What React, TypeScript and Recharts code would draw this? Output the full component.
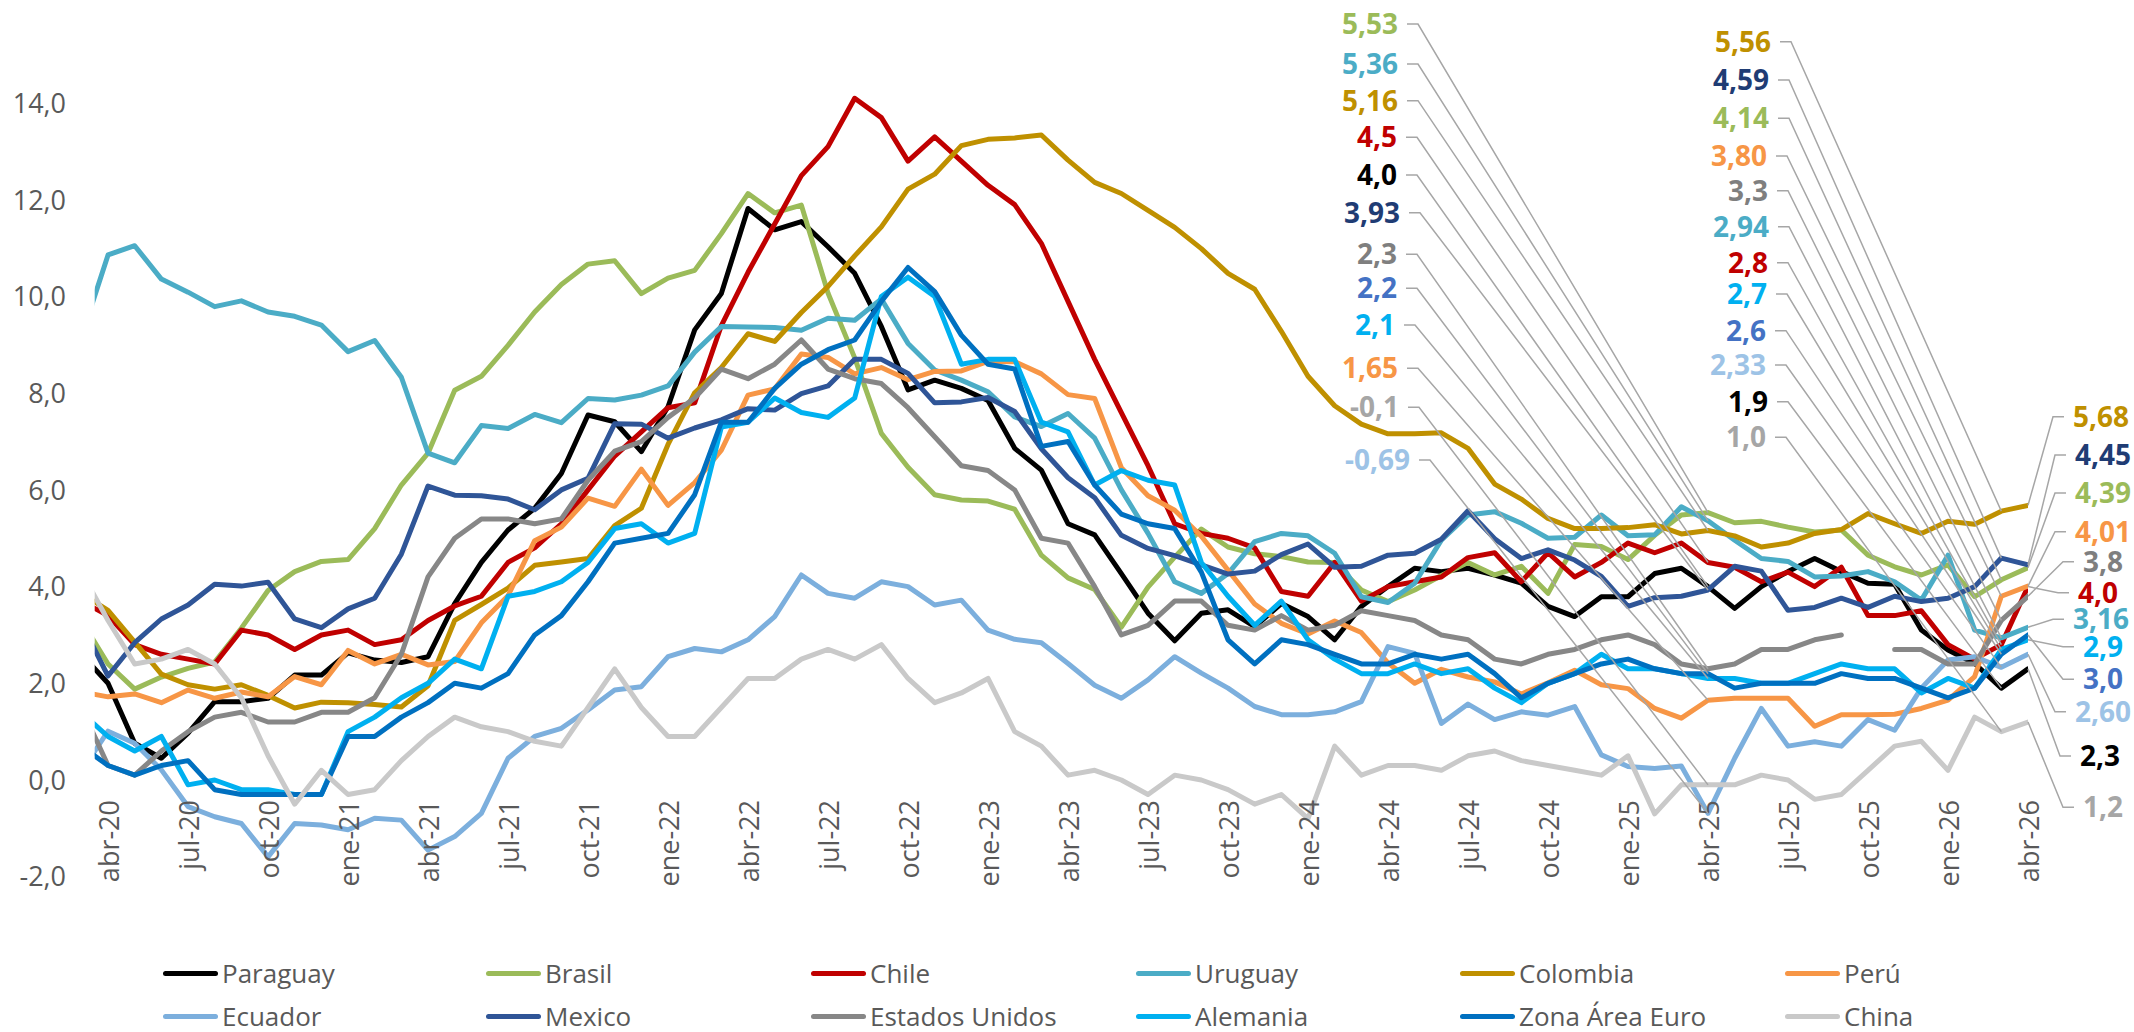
import React from 'react';
import { LineChart, Line, XAxis, YAxis, LabelList } from 'recharts';

// ---------------- DATA ----------------
const CATEGORIES = [
  'mar-20', 'abr-20', 'may-20', 'jun-20', 'jul-20', 'ago-20', 'sep-20', 'oct-20', 'nov-20', 'dic-20',
  'ene-21', 'feb-21', 'mar-21', 'abr-21', 'may-21', 'jun-21', 'jul-21', 'ago-21', 'sep-21', 'oct-21', 'nov-21', 'dic-21',
  'ene-22', 'feb-22', 'mar-22', 'abr-22', 'may-22', 'jun-22', 'jul-22', 'ago-22', 'sep-22', 'oct-22', 'nov-22', 'dic-22',
  'ene-23', 'feb-23', 'mar-23', 'abr-23', 'may-23', 'jun-23', 'jul-23', 'ago-23', 'sep-23', 'oct-23', 'nov-23', 'dic-23',
  'ene-24', 'feb-24', 'mar-24', 'abr-24', 'may-24', 'jun-24', 'jul-24', 'ago-24', 'sep-24', 'oct-24', 'nov-24', 'dic-24',
  'ene-25', 'feb-25', 'mar-25', 'abr-25', 'may-25', 'jun-25', 'jul-25', 'ago-25', 'sep-25', 'oct-25', 'nov-25', 'dic-25',
  'ene-26', 'feb-26', 'mar-26', 'abr-26',
];

const PARAGUAY = [2.6,
  2.0, 0.76, 0.45, 0.97, 1.62, 1.62, 1.69, 2.17, 2.17,
  2.63, 2.48, 2.43, 2.55, 3.65, 4.5, 5.17, 5.62, 6.34, 7.55, 7.41, 6.79,
  7.72, 9.31, 10.06, 11.82, 11.38, 11.55, 11.03, 10.48, 9.38, 8.07, 8.27, 8.1,
  7.85, 6.86, 6.41, 5.3, 5.07, 4.27, 3.45, 2.88, 3.45, 3.52, 3.17, 3.65,
  3.38, 2.9, 3.59, 4.0, 4.38, 4.31, 4.38, 4.24, 4.07, 3.59, 3.38, 3.79,
  3.79, 4.27, 4.38, 4.0, 3.55, 4.0, 4.31, 4.58, 4.31, 4.07, 4.05, 3.1,
  2.69, 2.41, 1.9, 2.3];
const BRASIL = [3.3,
  2.40, 1.88, 2.13, 2.31, 2.44, 3.14, 3.92, 4.31, 4.52,
  4.56, 5.20, 6.10, 6.76, 8.06, 8.35, 8.99, 9.68, 10.25, 10.67, 10.74, 10.06,
  10.38, 10.54, 11.30, 12.13, 11.73, 11.89, 10.07, 8.73, 7.17, 6.47, 5.90, 5.79,
  5.77, 5.60, 4.65, 4.18, 3.94, 3.16, 3.99, 4.61, 5.19, 4.82, 4.68, 4.62,
  4.51, 4.50, 3.93, 3.69, 3.93, 4.23, 4.50, 4.24, 4.42, 3.86, 4.87, 4.83,
  4.56, 5.06, 5.48, 5.53, 5.32, 5.35, 5.23, 5.13, 5.17, 4.65, 4.41, 4.24,
  4.45, 3.79, 4.14, 4.39];
const CHILE = [3.7,
  3.4, 2.8, 2.6, 2.5, 2.4, 3.1, 3.0, 2.7, 3.0,
  3.1, 2.8, 2.9, 3.3, 3.6, 3.8, 4.5, 4.8, 5.3, 6.0, 6.7, 7.2,
  7.7, 7.8, 9.4, 10.5, 11.5, 12.5, 13.1, 14.1, 13.7, 12.8, 13.3, 12.8,
  12.3, 11.9, 11.1, 9.9, 8.7, 7.6, 6.5, 5.3, 5.1, 5.0, 4.8, 3.9,
  3.8, 4.5, 3.7, 4.0, 4.1, 4.2, 4.6, 4.7, 4.1, 4.7, 4.2, 4.5,
  4.9, 4.7, 4.9, 4.5, 4.4, 4.1, 4.3, 4.0, 4.4, 3.4, 3.4, 3.5,
  2.8, 2.5, 2.8, 4.0];
const URUGUAY = [9.16,
  10.86, 11.05, 10.36, 10.09, 9.79, 9.91, 9.68, 9.59, 9.41,
  8.86, 9.09, 8.33, 6.76, 6.56, 7.33, 7.27, 7.56, 7.39, 7.89, 7.86, 7.96,
  8.15, 8.85, 9.38, 9.37, 9.36, 9.30, 9.55, 9.51, 9.95, 9.03, 8.48, 8.27,
  8.03, 7.51, 7.31, 7.58, 7.07, 6.0, 5.1, 4.1, 3.86, 4.27, 4.93, 5.1,
  5.05, 4.69, 3.79, 3.67, 4.07, 4.96, 5.48, 5.55, 5.31, 5.0, 5.02, 5.48,
  5.05, 5.07, 5.65, 5.36, 4.96, 4.58, 4.52, 4.2, 4.22, 4.31, 4.1, 3.72,
  4.65, 3.1, 2.94, 3.16];
const COLOMBIA = [3.86,
  3.51, 2.85, 2.19, 1.97, 1.88, 1.97, 1.75, 1.49, 1.61,
  1.60, 1.56, 1.51, 1.95, 3.30, 3.63, 3.97, 4.44, 4.51, 4.58, 5.26, 5.62,
  6.94, 8.01, 8.53, 9.23, 9.07, 9.67, 10.21, 10.84, 11.44, 12.22, 12.53, 13.12,
  13.25, 13.28, 13.34, 12.82, 12.36, 12.13, 11.78, 11.43, 10.99, 10.48, 10.15, 9.28,
  8.35, 7.74, 7.36, 7.16, 7.16, 7.18, 6.86, 6.12, 5.81, 5.41, 5.20, 5.20,
  5.22, 5.28, 5.09, 5.16, 5.05, 4.82, 4.90, 5.10, 5.18, 5.51, 5.30, 5.10,
  5.35, 5.29, 5.56, 5.68];
const PERU = [1.82,
  1.72, 1.78, 1.60, 1.86, 1.69, 1.82, 1.72, 2.14, 1.97,
  2.68, 2.40, 2.60, 2.38, 2.45, 3.25, 3.81, 4.95, 5.23, 5.83, 5.66, 6.43,
  5.68, 6.15, 6.82, 7.96, 8.09, 8.81, 8.74, 8.40, 8.53, 8.28, 8.45, 8.46,
  8.66, 8.65, 8.40, 7.97, 7.89, 6.46, 5.88, 5.58, 5.04, 4.34, 3.64, 3.24,
  3.02, 3.29, 3.05, 2.42, 2.00, 2.29, 2.13, 2.03, 1.78, 2.01, 2.27, 1.97,
  1.89, 1.48, 1.28, 1.65, 1.69, 1.69, 1.69, 1.11, 1.35, 1.35, 1.36, 1.48,
  1.65, 2.14, 3.80, 4.01];
const ECUADOR = [0.18,
  1.01, 0.76, 0.21, -0.55, -0.76, -0.9, -1.59, -0.9, -0.93,
  -1.03, -0.79, -0.83, -1.45, -1.17, -0.69, 0.45, 0.9, 1.07, 1.45, 1.86, 1.93,
  2.55, 2.72, 2.65, 2.9, 3.38, 4.24, 3.86, 3.76, 4.1, 4.0, 3.62, 3.72,
  3.1, 2.91, 2.84, 2.41, 1.96, 1.69, 2.07, 2.55, 2.21, 1.9, 1.52, 1.35,
  1.35, 1.41, 1.62, 2.76, 2.62, 1.17, 1.57, 1.25, 1.41, 1.34, 1.52, 0.52,
  0.28, 0.24, 0.29, -0.69, 0.45, 1.48, 0.7, 0.79, 0.7, 1.25, 1.03, 1.9,
  2.48, 2.55, 2.33, 2.60];
const MEXICO = [3.25,
  2.15, 2.84, 3.33, 3.62, 4.05, 4.01, 4.09, 3.33, 3.15,
  3.54, 3.76, 4.67, 6.08, 5.89, 5.88, 5.81, 5.59, 6.00, 6.24, 7.37, 7.36,
  7.07, 7.28, 7.45, 7.68, 7.65, 7.99, 8.15, 8.70, 8.70, 8.41, 7.80, 7.82,
  7.91, 7.62, 6.85, 6.25, 5.84, 5.06, 4.79, 4.64, 4.45, 4.26, 4.32, 4.66,
  4.88, 4.40, 4.42, 4.65, 4.69, 4.98, 5.57, 4.99, 4.58, 4.76, 4.55, 4.21,
  3.59, 3.77, 3.80, 3.93, 4.42, 4.32, 3.51, 3.57, 3.76, 3.57, 3.80, 3.69,
  3.76, 4.0, 4.59, 4.45];
const EEUU = [1.5,
  0.3, 0.1, 0.6, 1.0, 1.3, 1.4, 1.2, 1.2, 1.4,
  1.4, 1.7, 2.6, 4.2, 5.0, 5.4, 5.4, 5.3, 5.4, 6.2, 6.8, 7.0,
  7.5, 7.9, 8.5, 8.3, 8.6, 9.1, 8.5, 8.3, 8.2, 7.7, 7.1, 6.5,
  6.4, 6.0, 5.0, 4.9, 4.0, 3.0, 3.2, 3.7, 3.7, 3.2, 3.1, 3.4,
  3.1, 3.2, 3.5, 3.4, 3.3, 3.0, 2.9, 2.5, 2.4, 2.6, 2.7, 2.9,
  3.0, 2.8, 2.4, 2.3, 2.4, 2.7, 2.7, 2.9, 3.0, null, 2.7, 2.7,
  2.4, 2.4, 3.3, 3.8];
const ALEMANIA = [1.4,
  0.9, 0.6, 0.9, -0.1, 0.0, -0.2, -0.2, -0.3, -0.3,
  1.0, 1.3, 1.7, 2.0, 2.5, 2.3, 3.8, 3.9, 4.1, 4.5, 5.2, 5.3,
  4.9, 5.1, 7.3, 7.4, 7.9, 7.6, 7.5, 7.9, 10.0, 10.4, 10.0, 8.6,
  8.7, 8.7, 7.4, 7.2, 6.1, 6.4, 6.2, 6.1, 4.5, 3.8, 3.2, 3.7,
  2.9, 2.5, 2.2, 2.2, 2.4, 2.2, 2.3, 1.9, 1.6, 2.0, 2.2, 2.6,
  2.3, 2.3, 2.2, 2.1, 2.1, 2.0, 2.0, 2.2, 2.4, 2.3, 2.3, 1.8,
  2.1, 1.9, 2.7, 2.9];
const ZONA_EURO = [0.7,
  0.3, 0.1, 0.3, 0.4, -0.2, -0.3, -0.3, -0.3, -0.3,
  0.9, 0.9, 1.3, 1.6, 2.0, 1.9, 2.2, 3.0, 3.4, 4.1, 4.9, 5.0,
  5.1, 5.9, 7.4, 7.4, 8.1, 8.6, 8.9, 9.1, 9.9, 10.6, 10.1, 9.2,
  8.6, 8.5, 6.9, 7.0, 6.1, 5.5, 5.3, 5.2, 4.3, 2.9, 2.4, 2.9,
  2.8, 2.6, 2.4, 2.4, 2.6, 2.5, 2.6, 2.2, 1.7, 2.0, 2.2, 2.4,
  2.5, 2.3, 2.2, 2.2, 1.9, 2.0, 2.0, 2.0, 2.2, 2.1, 2.1, 1.9,
  1.7, 1.9, 2.6, 3.0];
const CHINA = [4.3,
  3.3, 2.4, 2.5, 2.7, 2.4, 1.7, 0.5, -0.5, 0.2,
  -0.3, -0.2, 0.4, 0.9, 1.3, 1.1, 1.0, 0.8, 0.7, 1.5, 2.3, 1.5,
  0.9, 0.9, 1.5, 2.1, 2.1, 2.5, 2.7, 2.5, 2.8, 2.1, 1.6, 1.8,
  2.1, 1.0, 0.7, 0.1, 0.2, 0.0, -0.3, 0.1, 0.0, -0.2, -0.5, -0.3,
  -0.8, 0.7, 0.1, 0.3, 0.3, 0.2, 0.5, 0.6, 0.4, 0.3, 0.2, 0.1,
  0.5, -0.7, -0.1, -0.1, -0.1, 0.1, 0.0, -0.4, -0.3, 0.2, 0.7, 0.8,
  0.2, 1.3, 1.0, 1.2];

const Y_TICKS = [-2, 0, 2, 4, 6, 8, 10, 12, 14];

// ---------------- STYLE / LAYOUT ----------------
const FONT = "'Open Sans', 'Noto Sans', sans-serif";
const TEXT_GREY = '#595959';
const W = 2134;
const H = 1032;
const PLOT_TOP = 6.4;
const PLOT_BOTTOM = 876.7;
const PLOT_LEFT = 94.7;
const PLOT_RIGHT = 2028;
const XAXIS_H = 30;
const Y_MIN = -2;
const Y_MAX = 16;

const SERIES = [
  { key: 'Paraguay', name: 'Paraguay', data: PARAGUAY, color: '#000000', labelColor: '#000000', dec: 1 },
  { key: 'Brasil', name: 'Brasil', data: BRASIL, color: '#9BBB59', labelColor: '#9BBB59', dec: 2 },
  { key: 'Chile', name: 'Chile', data: CHILE, color: '#C00000', labelColor: '#C00000', dec: 1 },
  { key: 'Uruguay', name: 'Uruguay', data: URUGUAY, color: '#4BACC6', labelColor: '#4BACC6', dec: 2 },
  { key: 'Colombia', name: 'Colombia', data: COLOMBIA, color: '#BF9000', labelColor: '#BF9000', dec: 2 },
  { key: 'Peru', name: 'Perú', data: PERU, color: '#F79646', labelColor: '#F79646', dec: 2 },
  { key: 'Ecuador', name: 'Ecuador', data: ECUADOR, color: '#7CAFDD', labelColor: '#9DC3E6', dec: 2 },
  { key: 'Mexico', name: 'Mexico', data: MEXICO, color: '#2F5597', labelColor: '#1F3C74', dec: 2 },
  { key: 'EEUU', name: 'Estados Unidos', data: EEUU, color: '#878787', labelColor: '#7F7F7F', dec: 1 },
  { key: 'Alemania', name: 'Alemania', data: ALEMANIA, color: '#00B0F0', labelColor: '#00B0F0', dec: 1 },
  { key: 'ZE', name: 'Zona Área Euro', data: ZONA_EURO, color: '#0070C0', labelColor: '#4472C4', dec: 1 },
  { key: 'China', name: 'China', data: CHINA, color: '#C9C9C9', labelColor: '#A6A6A6', dec: 1 },
];

// label placement (side L: text ends at x; side R: text starts at x)
const LABEL_LAYOUT: Record<string, Record<number, { x: number; y: number; side: 'L' | 'R' }>> = {
  Brasil: { 60: { x: 1398, y: 24, side: 'L' }, 71: { x: 1769, y: 118.3, side: 'L' }, 72: { x: 2075, y: 493, side: 'R' } },
  Uruguay: { 60: { x: 1398, y: 64, side: 'L' }, 71: { x: 1769, y: 226.7, side: 'L' }, 72: { x: 2073, y: 619.3, side: 'R' } },
  Colombia: { 60: { x: 1398, y: 100.7, side: 'L' }, 71: { x: 1771, y: 41.7, side: 'L' }, 72: { x: 2073, y: 416.7, side: 'R' } },
  Chile: { 60: { x: 1397, y: 137.3, side: 'L' }, 71: { x: 1768, y: 262.7, side: 'L' }, 72: { x: 2078, y: 592.7, side: 'R' } },
  Paraguay: { 60: { x: 1397, y: 175, side: 'L' }, 71: { x: 1768, y: 401.7, side: 'L' }, 72: { x: 2080, y: 756, side: 'R' } },
  Mexico: { 60: { x: 1400, y: 212.7, side: 'L' }, 71: { x: 1769, y: 80, side: 'L' }, 72: { x: 2075, y: 455, side: 'R' } },
  EEUU: { 60: { x: 1397, y: 254.3, side: 'L' }, 71: { x: 1768, y: 190.7, side: 'L' }, 72: { x: 2083, y: 561.7, side: 'R' } },
  ZE: { 60: { x: 1397, y: 288.3, side: 'L' }, 71: { x: 1766, y: 330.7, side: 'L' }, 72: { x: 2083, y: 679.3, side: 'R' } },
  Alemania: { 60: { x: 1395, y: 325, side: 'L' }, 71: { x: 1767, y: 294, side: 'L' }, 72: { x: 2083, y: 646.7, side: 'R' } },
  Peru: { 60: { x: 1398, y: 368.3, side: 'L' }, 71: { x: 1767, y: 156, side: 'L' }, 72: { x: 2075, y: 531.7, side: 'R' } },
  China: { 60: { x: 1399, y: 407.3, side: 'L' }, 71: { x: 1766, y: 437.3, side: 'L' }, 72: { x: 2083, y: 807.3, side: 'R' } },
  Ecuador: { 60: { x: 1410, y: 460, side: 'L' }, 71: { x: 1766, y: 365, side: 'L' }, 72: { x: 2075, y: 711.7, side: 'R' } },
};

const LEG_X = [163, 486, 811, 1136, 1460, 1785];
const LEG_Y = [973, 1016];

// ---------------- TABLES ----------------
const ROWS = CATEGORIES.map((m, k) => {
  const r: any = { t: k - 1, m };
  SERIES.forEach((s) => { r[s.key] = s.data[k]; });
  return r;
});
const LABEL_ROWS = ROWS.filter((r) => r.t >= 0);
const X_TICKS = ROWS.filter((r) => r.t >= 0 && r.t % 3 === 0).map((r) => r.t);

const fmt = (v: number, dec: number) => v.toFixed(dec).replace('.', ',');

const XTick = (props: any) => {
  const { x, payload } = props;
  const y0 = PLOT_TOP + (PLOT_BOTTOM - PLOT_TOP) * (Y_MAX / (Y_MAX - Y_MIN));
  const ty = y0 + 20;
  const label = CATEGORIES[payload.value + 1];
  return (
    <text x={x} y={ty} transform={`rotate(-90 ${x} ${ty})`} textAnchor="end" dominantBaseline="central"
      fontSize={27} fill={TEXT_GREY} fontFamily={FONT}>{label}</text>
  );
};

const YTick = (props: any) => {
  const { y, payload } = props;
  return (
    <text x={66} y={y} dy="0.36em" textAnchor="end" fontSize={27} fill={TEXT_GREY} fontFamily={FONT}>
      {fmt(payload.value, 1)}
    </text>
  );
};

const makeLabel = (s: any) => (props: any) => {
  const { x, y, index, value } = props;
  const pos = LABEL_LAYOUT[s.key]?.[index];
  if (!pos || x == null || y == null || value == null) return null;
  const text = fmt(Number(value), s.dec);
  const pts = pos.side === 'L'
    ? `${pos.x + 9},${pos.y} ${pos.x + 20},${pos.y} ${x},${y}`
    : `${x},${y} ${pos.x - 20},${pos.y} ${pos.x - 9},${pos.y}`;
  return (
    <g key={`lab-${s.key}-${index}`}>
      <polyline points={pts} fill="none" stroke="#A6A6A6" strokeWidth={1.5} />
      <text x={pos.x} y={pos.y} dy="0.36em" textAnchor={pos.side === 'L' ? 'end' : 'start'}
        fontSize={28} fontWeight={700} fill={s.labelColor} fontFamily={FONT}>{text}</text>
    </g>
  );
};

export default function App() {
  return (
    <div style={{ position: 'absolute', left: 0, top: 0, width: W, height: H, background: '#fff', fontFamily: FONT }}>
      <LineChart width={W} height={H} data={ROWS}
        margin={{ top: PLOT_TOP, right: W - PLOT_RIGHT, bottom: H - PLOT_BOTTOM - XAXIS_H, left: 0 }}>
        <XAxis dataKey="t" type="number" domain={[-0.5, 72]} allowDataOverflow ticks={X_TICKS} interval={0}
          height={XAXIS_H} axisLine={false} tickLine={false} tick={(p: any) => <XTick {...p} />} />
        <XAxis xAxisId="lab" dataKey="t" type="number" domain={[-0.5, 72]} hide />
        <YAxis type="number" domain={[Y_MIN, Y_MAX]} ticks={Y_TICKS} interval={0} width={PLOT_LEFT}
          axisLine={false} tickLine={false} tick={(p: any) => <YTick {...p} />} />
        {SERIES.map((s) => (
          <Line key={s.key} dataKey={s.key} name={s.name} type="linear" stroke={s.color} strokeWidth={5}
            strokeLinejoin="round" strokeLinecap="round" dot={false} activeDot={false}
            isAnimationActive={false} connectNulls={false} />
        ))}
        {SERIES.map((s) => (
          <Line key={`l-${s.key}`} xAxisId="lab" data={LABEL_ROWS} dataKey={s.key} stroke="none" strokeWidth={0}
            dot={false} activeDot={false} isAnimationActive={false} legendType="none">
            <LabelList dataKey={s.key} content={makeLabel(s)} />
          </Line>
        ))}
      </LineChart>
      {SERIES.map((s, k) => {
        const col = k % 6;
        const row = Math.floor(k / 6);
        return (
          <div key={`leg-${s.key}`} style={{ position: 'absolute', left: LEG_X[col], top: LEG_Y[row] - 18, height: 36, display: 'flex', alignItems: 'center', whiteSpace: 'nowrap' }}>
            <span style={{ display: 'inline-block', width: 55, height: 5, background: s.color, borderRadius: 2.5 }} />
            <span style={{ marginLeft: 4, fontSize: 26, color: TEXT_GREY, fontFamily: FONT, lineHeight: '36px' }}>{s.name}</span>
          </div>
        );
      })}
    </div>
  );
}
